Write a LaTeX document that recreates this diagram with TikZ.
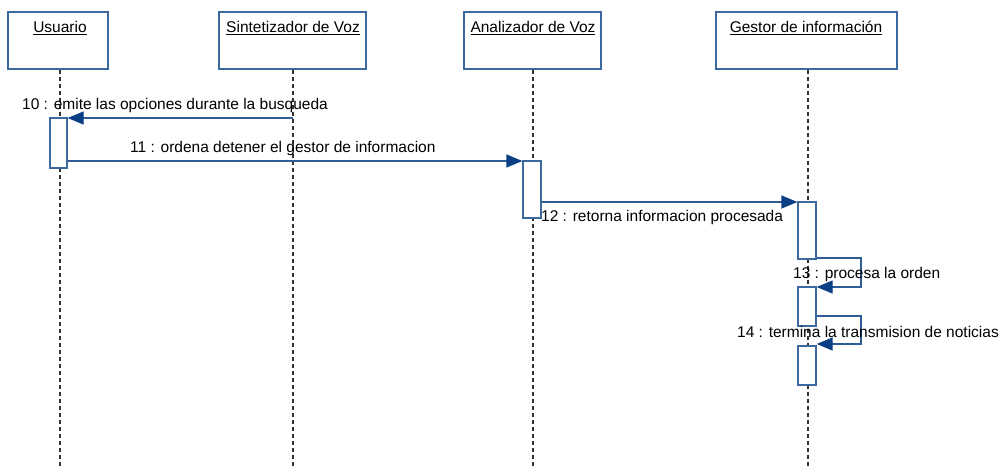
\documentclass[tikz,border=0pt]{standalone}
\usepackage{fontspec}
\setmainfont{Liberation Sans}
\usetikzlibrary{arrows.meta}
\definecolor{boxc}{HTML}{3D6A9E}
\definecolor{arrc}{HTML}{2E5D98}
\definecolor{headc}{HTML}{0B3F85}
\definecolor{lifec}{HTML}{333333}
\tikzset{
  objbox/.style={draw=boxc, line width=1.4pt, fill=white, inner sep=0pt},
  actbox/.style={draw=boxc, line width=1.3pt, fill=white, inner sep=0pt, minimum width=18pt},
  lifeline/.style={draw=lifec, line width=1.3pt, dash pattern=on 4pt off 3pt},
  msg/.style={draw=arrc, line width=1.3pt, -{Triangle[length=16pt,width=13pt,fill=headc,color=headc]}},
  lbl/.style={inner sep=0pt, font=\fontsize{15.5}{17}\selectfont, text=black},
  hdr/.style={inner sep=0pt, font=\fontsize{15.5}{17}\selectfont, text=black, anchor=north},
}
\begin{document}
\begin{tikzpicture}[x=1pt,y=-1pt]
\useasboundingbox (0,0) rectangle (1001,466);
% object boxes
\node[objbox, minimum width=100pt, minimum height=57pt] (usu) at (58,40.5) {};
\node[objbox, minimum width=147pt, minimum height=57pt] (sin) at (292.5,40.5) {};
\node[objbox, minimum width=137pt, minimum height=57pt] (ana) at (532.5,40.5) {};
\node[objbox, minimum width=181pt, minimum height=57pt] (ges) at (806.5,40.5) {};
\node[hdr] (usuT) at (60,21) {\underline{Usuario}};
\node[hdr] (sinT) at (293,21) {\underline{Sintetizador de Voz}};
\node[hdr] (anaT) at (533,21) {\underline{Analizador de Voz}};
\node[hdr] (gesT) at (806,21) {\underline{Gestor de información}};
% lifeline ends
\coordinate (usuE) at (60,466);
\coordinate (sinE) at (293,466);
\coordinate (anaE) at (533,466);
\coordinate (gesE) at (808,466);
\draw[lifeline] (usu.south -| usuE) -- (usuE);
\draw[lifeline] (sin.south -| sinE) -- (sinE);
\draw[lifeline] (ana.south -| anaE) -- (anaE);
\draw[lifeline] (ges.south -| gesE) -- (gesE);
% activations
\node[actbox, minimum width=17pt, minimum height=50pt] (a1) at (58.5,143) {};
\node[actbox, minimum height=57pt] (a2) at (532,189.5) {};
\node[actbox, minimum height=57pt] (a3) at (807,230.5) {};
\node[actbox, minimum height=39pt] (a4) at (807,306.5) {};
\node[actbox, minimum height=39pt] (a5) at (807,365.5) {};
% messages
\coordinate (s10) at (293,118);
\draw[msg] (s10) -- (s10 -| a1.east);
\node[lbl, anchor=west] (l10) at (22,105) {10 : emite las opciones durante la busqueda};
\draw[msg] (a1.east |- 0,161) -- (a2.west |- 0,161);
\node[lbl, anchor=west] (l11) at (130,148) {11 : ordena detener el gestor de informacion};
\draw[msg] (a2.east |- 0,202) -- (a3.west |- 0,202);
\node[lbl, anchor=west] (l12) at (541,217) {12 : retorna informacion procesada};
\coordinate (c13a) at (861,258);
\coordinate (c13b) at (861,287);
\draw[msg] (a3.east |- c13a) -- (c13a) -- (c13b) -- (a4.east |- c13b);
\node[lbl, anchor=west] (l13) at (793,274) {13 : procesa la orden};
\coordinate (c14a) at (861,316);
\coordinate (c14b) at (861,344);
\draw[msg] (a4.east |- c14a) -- (c14a) -- (c14b) -- (a5.east |- c14b);
\node[lbl, anchor=west] (l14) at (737,332) {14 : termina la transmision de noticias};
\end{tikzpicture}
\end{document}
